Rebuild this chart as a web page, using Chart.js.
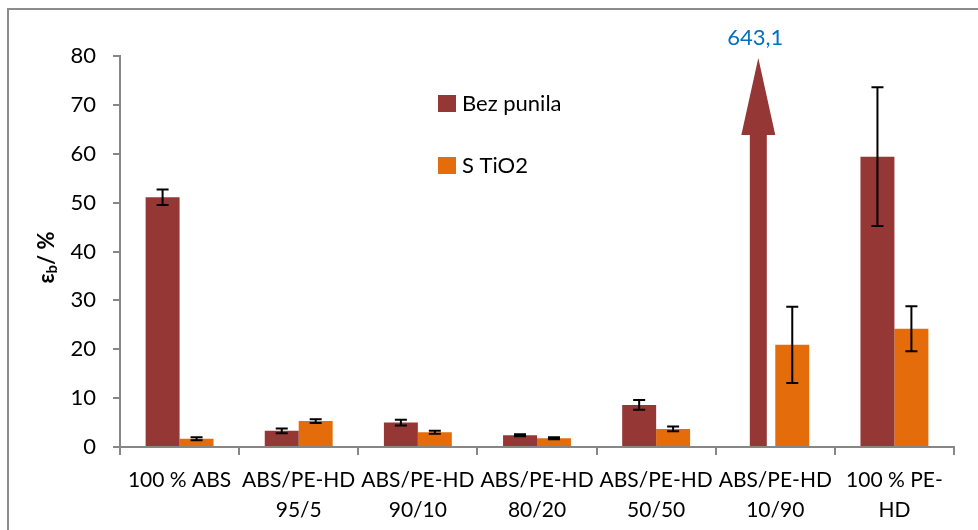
<!DOCTYPE html>
<html>
<head>
<meta charset="utf-8">
<script src="https://cdn.jsdelivr.net/npm/chart.js@4.4.1/dist/chart.umd.min.js"></script>
<style>
  html, body { margin: 0; padding: 0; background: #fff; }
  #wrap { position: relative; width: 978px; height: 530px; }
</style>
</head>
<body>
<div id="wrap"><canvas id="chart" width="978" height="530"></canvas></div>
<script>
var categories = [['100 % ABS'], ['ABS/PE-HD', '95/5'], ['ABS/PE-HD', '90/10'], ['ABS/PE-HD', '80/20'],
  ['ABS/PE-HD', '50/50'], ['ABS/PE-HD', '10/90'], ['100 % PE-', 'HD']]
var bezPunila = [51.1, 3.3, 5.0, 2.4, 8.6, 643.1, 59.4]
var bezErr = [1.6, 0.5, 0.6, 0.2, 1.0, null, 14.2]
var sTiO2 = [1.7, 5.3, 3.0, 1.8, 3.7, 20.9, 24.2]
var tiErr = [0.3, 0.4, 0.3, 0.2, 0.5, 7.8, 4.6]
var yTicks = [0, 10, 20, 30, 40, 50, 60, 70, 80]

var yMax = yTicks[yTicks.length - 1]
var FONT = 'Lato, "Open Sans", sans-serif'
var axisGray = '#868686'
var colors = ['#953735', '#E46C0A']
var errors = [bezErr, tiErr]

// frame round the whole picture (only left and top edges show)
var framePlugin = {
  id: 'frame',
  beforeDraw: function (chart) {
    var c = chart.ctx
    c.save()
    c.strokeStyle = '#8c8c8c'
    c.lineWidth = 2
    c.beginPath()
    c.moveTo(8, chart.height)
    c.lineTo(8, 9)
    c.lineTo(chart.width, 9)
    c.stroke()
    c.restore()
  }
}

var errorBarPlugin = {
  id: 'errorBars',
  afterDatasetsDraw: function (chart) {
    var c = chart.ctx
    var y = chart.scales.y
    c.save()
    c.strokeStyle = '#000'
    c.lineWidth = 2
    chart.data.datasets.forEach(function (ds, di) {
      var meta = chart.getDatasetMeta(di)
      meta.data.forEach(function (bar, i) {
        var e = errors[di][i]
        var v = ds.data[i]
        if (e == null || v > yMax) return
        var top = y.getPixelForValue(v + e)
        var bot = y.getPixelForValue(v - e)
        c.beginPath()
        c.moveTo(bar.x, top); c.lineTo(bar.x, bot)
        c.moveTo(bar.x - 6, top); c.lineTo(bar.x + 6, top)
        c.moveTo(bar.x - 6, bot); c.lineTo(bar.x + 6, bot)
        c.stroke()
      })
    })
    c.restore()
  }
}

// off-scale value: drawn as an arrow through the top, with its value above
var arrowPlugin = {
  id: 'arrow',
  afterDatasetsDraw: function (chart) {
    var c = chart.ctx
    var area = chart.chartArea
    chart.data.datasets.forEach(function (ds, di) {
      var meta = chart.getDatasetMeta(di)
      meta.data.forEach(function (bar, i) {
        var v = ds.data[i]
        if (v <= yMax) return
        var half = bar.width / 2
        var tip = area.top + 2
        var headBase = tip + 77
        c.save()
        c.fillStyle = colors[di]
        c.beginPath()
        c.moveTo(bar.x - half / 2, bar.base)
        c.lineTo(bar.x - half / 2, headBase)
        c.lineTo(bar.x - half, headBase)
        c.lineTo(bar.x, tip)
        c.lineTo(bar.x + half, headBase)
        c.lineTo(bar.x + half / 2, headBase)
        c.lineTo(bar.x + half / 2, bar.base)
        c.closePath()
        c.fill()
        c.fillStyle = '#0070C0'
        c.font = '22px ' + FONT
        c.textAlign = 'center'
        c.textBaseline = 'middle'
        c.fillText(String(v).replace('.', ','), bar.x - 3, 38)
        c.restore()
      })
    })
  }
}

var legendPlugin = {
  id: 'insideLegend',
  afterDraw: function (chart) {
    var c = chart.ctx
    var rows = [103, 165]
    c.save()
    c.font = '22px ' + FONT
    c.textBaseline = 'middle'
    c.textAlign = 'left'
    chart.data.datasets.forEach(function (ds, di) {
      c.fillStyle = colors[di]
      c.fillRect(438, rows[di] - 8, 18, 17)
      c.fillStyle = '#000'
      c.fillText(ds.label, 462, rows[di] + 1)
    })
    c.restore()
  }
}

var yTitlePlugin = {
  id: 'yTitle',
  afterDraw: function (chart) {
    var c = chart.ctx
    var area = chart.chartArea
    var big = 'bold 22px ' + FONT
    var small = 'bold 15px ' + FONT
    c.save()
    c.translate(47, (area.top + area.bottom) / 2 + 6)
    c.rotate(-Math.PI / 2)
    c.fillStyle = '#000'
    c.textBaseline = 'middle'
    c.font = big
    var w1 = c.measureText('\u03b5').width
    var w3 = c.measureText('/ %').width
    c.font = small
    var w2 = c.measureText('b').width
    var x = -(w1 + w2 + w3) / 2
    c.font = big
    c.fillText('\u03b5', x, 0)
    c.font = small
    c.fillText('b', x + w1, 5)
    c.font = big
    c.fillText('/ %', x + w1 + w2, 0)
    c.restore()
  }
}

new Chart(document.getElementById('chart'), {
  type: 'bar',
  data: {
    labels: categories,
    datasets: [
      {
        label: 'Bez punila',
        data: bezPunila,
        backgroundColor: function (ctx) { return ctx.raw > yMax ? 'rgba(0,0,0,0)' : colors[0] }
      },
      { label: 'S TiO2', data: sTiO2, backgroundColor: colors[1] }
    ]
  },
  options: {
    responsive: false,
    animation: false,
    categoryPercentage: 0.57,
    barPercentage: 1,
    layout: { padding: { top: 56, right: 24, left: 0, bottom: 0 } },
    plugins: {
      legend: { display: false },
      tooltip: { enabled: false }
    },
    scales: {
      x: {
        grid: { display: true, drawOnChartArea: false, offset: true, tickLength: 8, color: axisGray, lineWidth: 2 },
        border: { color: axisGray, width: 2 },
        ticks: { color: '#000', font: { family: FONT, size: 21, lineHeight: 1.43 }, padding: 10, maxRotation: 0, autoSkip: false },
        afterFit: function (s) { s.height = 83 }
      },
      y: {
        min: 0,
        max: yMax,
        afterBuildTicks: function (s) { s.ticks = yTicks.map(function (v) { return { value: v } }) },
        grid: { drawOnChartArea: false, tickLength: 7, color: axisGray, lineWidth: 2 },
        border: { color: axisGray, width: 2 },
        ticks: { color: '#000', font: { family: FONT, size: 22 }, padding: 17 },
        afterFit: function (s) { s.width = 120 }
      }
    }
  },
  plugins: [framePlugin, errorBarPlugin, arrowPlugin, legendPlugin, yTitlePlugin]
})
</script>
</body>
</html>
